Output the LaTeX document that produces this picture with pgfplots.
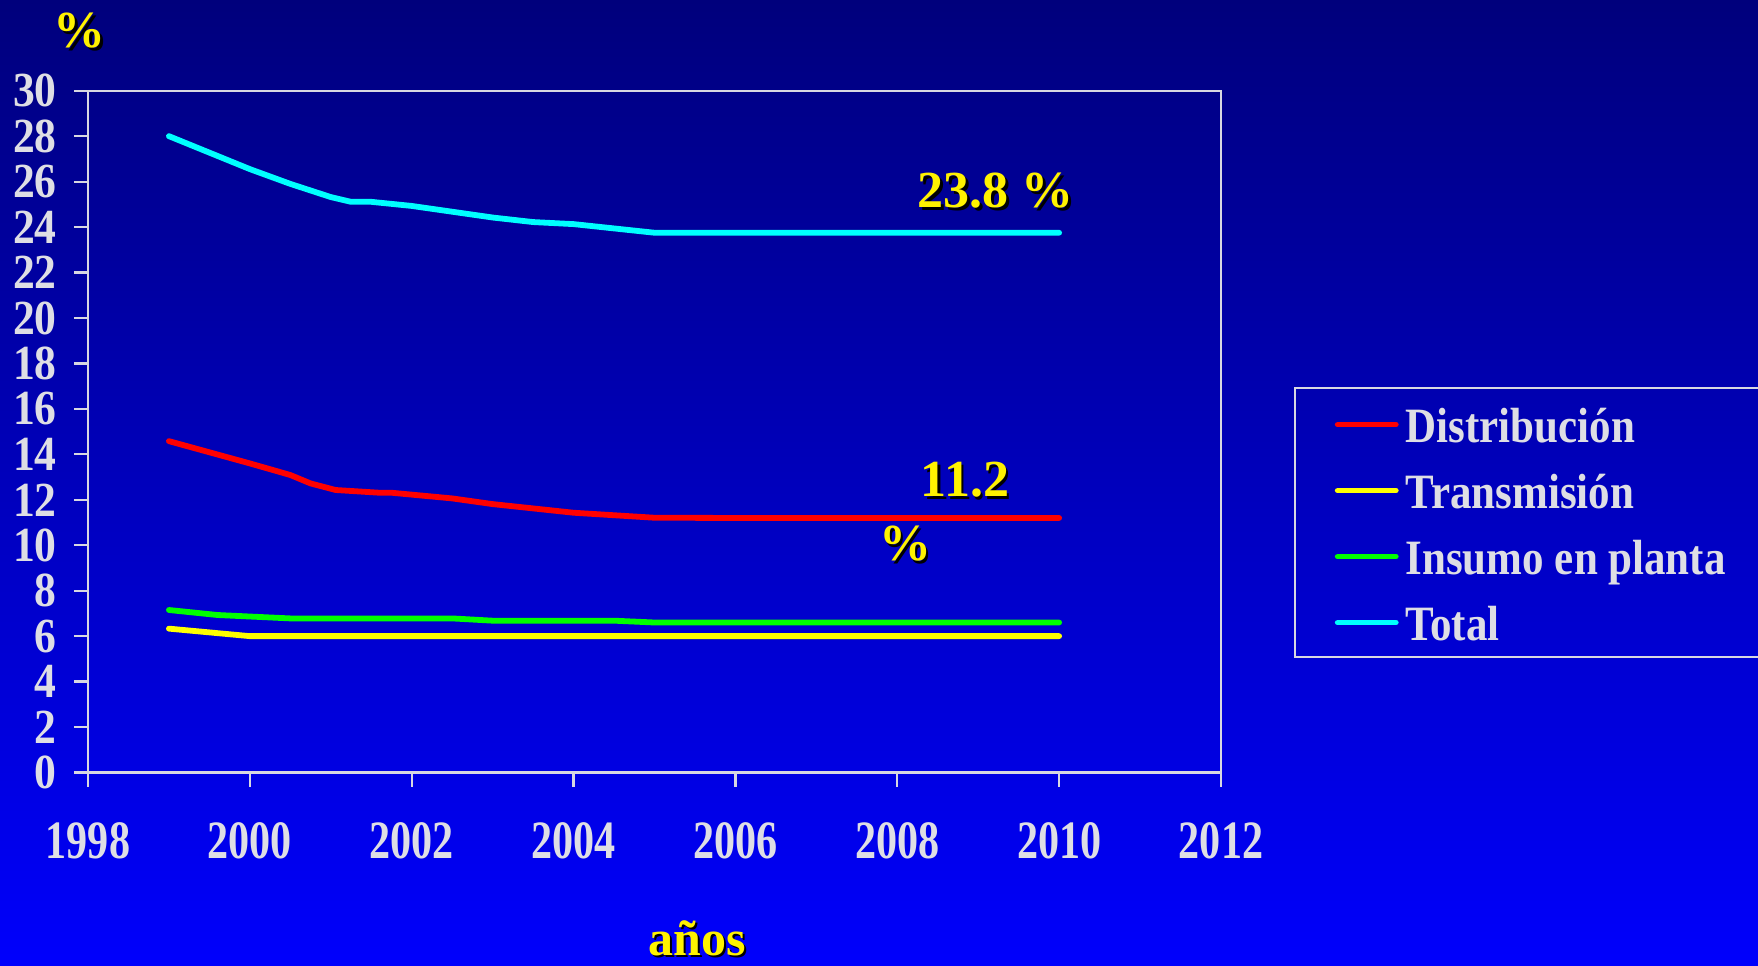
\documentclass[border=0pt]{standalone}
\usepackage{fontspec}
\setmainfont{Liberation Serif}
\usepackage{graphicx}
\usepackage{pgfplots}
\pgfplotsset{compat=1.18}

\definecolor{bgtop}{RGB}{0,0,124}
\definecolor{bgbot}{RGB}{0,0,252}
\definecolor{lbl}{RGB}{222,222,228}
\definecolor{axcol}{RGB}{215,215,225}
\definecolor{dist}{RGB}{255,0,0}
\definecolor{trans}{RGB}{255,255,0}
\definecolor{insumo}{RGB}{0,255,0}
\definecolor{total}{RGB}{0,255,255}

% yellow text with a dark drop shadow
\newcommand{\ylab}[3][26]{%
  \node[anchor=base, inner sep=0pt, text=black, font=\fontsize{#1}{#1}\selectfont\bfseries,
        xshift=1.3pt, yshift=-1.3pt] at (#2) {#3};
  \node[anchor=base, inner sep=0pt, text=yellow, font=\fontsize{#1}{#1}\selectfont\bfseries] at (#2) {#3};}

\begin{document}
\begin{tikzpicture}
\useasboundingbox (0,0) rectangle (879pt,482.5pt);
\shade[top color=bgtop, bottom color=bgbot] (0,0) rectangle (879pt,482.5pt);

\begin{axis}[
  at={(44pt,96.25pt)}, anchor=south west,
  scale only axis, width=566.5pt, height=340.9pt,
  xmin=1998, xmax=2012, ymin=0, ymax=30,
  xtick={1998,2000,...,2012}, ytick={0,2,...,30},
  xtick pos=left, ytick pos=left,
  tick align=outside, major tick length=7pt,
  axis line style={draw=axcol, line width=1.1pt},
  tick style={draw=axcol, line width=1.1pt},
  /pgf/number format/assume math mode=true,
  /pgf/number format/1000 sep={},
  yticklabel style={font=\fontsize{24.5}{24.5}\selectfont\bfseries, text=lbl,
    anchor=east, inner sep=0pt, xshift=-8.5pt, xscale=0.89},
  xticklabel style={font=\fontsize{27}{27}\selectfont\bfseries, text=lbl,
    anchor=center, inner sep=0pt, yshift=-27pt, xscale=0.78},
  clip=false,
  legend style={at={(1.1005,0.54254)}, anchor=north west, draw=none, fill=none,
    inner sep=0pt, outer sep=0pt, row sep=0pt, column sep=3.5pt,
    font=\fontsize{24.7}{24.7}\selectfont\bfseries, text=lbl,
    nodes={inner sep=0pt, text height=20pt, text depth=13pt, anchor=base west}},
  legend cell align=left,
  legend image code/.code={\draw[#1, line width=2.9pt, line cap=round] (0pt,9pt) -- (29pt,9pt);},
  every axis plot/.append style={line width=2.9pt, line cap=round, line join=round},
]
\addplot[dist] coordinates {
  (1999,14.58) (2000,13.6) (2000.5,13.09) (2000.75,12.72) (2001.06,12.43)
  (2001.6,12.31) (2001.75,12.31) (2002.5,12.06) (2003,11.81) (2004,11.43)
  (2005,11.21) (2006,11.2) (2007,11.2) (2008,11.2) (2009,11.2) (2010,11.2)
};
\addlegendentry{\scalebox{0.87}[1]{Distribución}}

\addplot[trans] coordinates {
  (1999,6.33) (2000,6.0) (2001,6.0) (2002,6.0) (2003,6.0) (2004,6.0)
  (2005,6.0) (2006,6.0) (2007,6.0) (2008,6.0) (2009,6.0) (2010,6.0)
};
\addlegendentry{\scalebox{0.87}[1]{Transmisión}}

\addplot[insumo] coordinates {
  (1999,7.15) (1999.6,6.93) (2000.5,6.78) (2002.5,6.78) (2003,6.68)
  (2004.5,6.68) (2005,6.6) (2006,6.6) (2007,6.6) (2008,6.6) (2009,6.6) (2010,6.6)
};
\addlegendentry{\scalebox{0.87}[1]{Insumo en planta}}

\addplot[total] coordinates {
  (1999,28.0) (2000,26.55) (2000.5,25.9) (2001,25.32) (2001.25,25.11)
  (2001.5,25.11) (2002,24.93) (2003,24.42) (2003.5,24.22) (2004,24.13)
  (2005,23.75) (2006,23.75) (2007,23.75) (2008,23.75) (2009,23.75) (2010,23.75)
};
\addlegendentry{\scalebox{0.87}[1]{Total}}
\end{axis}

% legend frame (runs off the right edge as in the slide)
\draw[axcol, line width=1pt] (647.5pt,154pt) rectangle (890pt,288.5pt);

\ylab{497.8pt,378.5pt}{23.8 \%}
\ylab{482.5pt,234pt}{11.2}
\ylab{452.5pt,202pt}{\%}
\ylab{40pt,458.5pt}{\%}
\ylab[25]{348.5pt,5pt}{años}
\end{tikzpicture}
\end{document}
